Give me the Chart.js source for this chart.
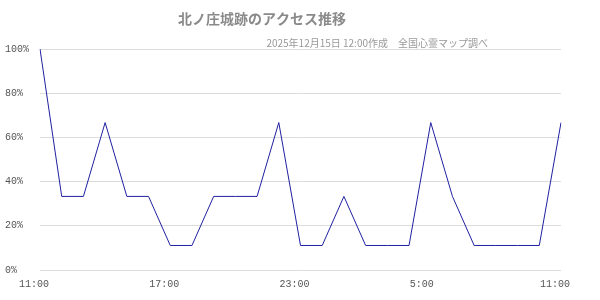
<!DOCTYPE html>
<html><head><meta charset="utf-8">
<script src="https://cdn.jsdelivr.net/npm/chart.js@4"></script>
<style>html,body{margin:0;padding:0;background:#fff}#wrap{width:600px;height:300px}</style>
</head><body><div id="wrap"><canvas id="c" width="600" height="300"></canvas></div>
<script>
const titleText = "北ノ庄城跡のアクセス推移";
const subtitleText = "2025年12月15日 12:00作成　全国心霊マップ調べ";
const hours = ["11:00","12:00","13:00","14:00","15:00","16:00","17:00","18:00","19:00","20:00","21:00","22:00","23:00","0:00","1:00","2:00","3:00","4:00","5:00","6:00","7:00","8:00","9:00","10:00","11:00"];
const access = [100,33.3,33.3,66.7,33.3,33.3,11.1,11.1,33.3,33.3,33.3,66.7,11.1,11.1,33.3,11.1,11.1,11.1,66.7,33.3,11.1,11.1,11.1,11.1,66.7];
const yTicks = [0,20,40,60,80,100];

const headerPlugin = {
  id: 'header',
  afterDraw(chart) {
    const ctx = chart.ctx;
    ctx.save();
    ctx.fillStyle = '#8a8a8a';
    ctx.textBaseline = 'middle';
    ctx.textAlign = 'center';
    ctx.font = 'bold 14px "Noto Sans CJK JP"';
    ctx.fillText(titleText, 262, 19);
    ctx.textAlign = 'right';
    ctx.font = '10px "Noto Sans CJK JP"';
    ctx.fillStyle = '#999';
    ctx.fillText(subtitleText, 488, 43);
    ctx.restore();
  }
};

new Chart(document.getElementById('c'), {
  type: 'line',
  data: {
    labels: hours,
    datasets: [{
      data: access,
      borderColor: '#2020a0',
      borderWidth: 1,
      pointRadius: 0,
      tension: 0,
      fill: false
    }]
  },
  options: {
    responsive: false,
    animation: false,
    layout: { padding: { left: 5, right: 39, top: 49, bottom: 0 } },
    plugins: { legend: { display: false }, tooltip: { enabled: false } },
    scales: {
      x: {
        afterFit: s => { s.height = 30; },
        grid: { display: false },
        border: { display: false },
        ticks: {
          autoSkip: false,
          maxRotation: 0,
          align: 'start',
          labelOffset: -21,
          padding: 0,
          color: '#555',
          font: { family: '"Liberation Mono"', size: 10 },
          callback: function(v, i) { return i % 6 === 0 ? hours[i] : ''; }
        }
      },
      y: {
        min: 0, max: 100,
        afterBuildTicks: s => { s.ticks = yTicks.map(v => ({ value: v })); },
        afterFit: s => { s.width = 35; },
        grid: { color: '#dcdcdc', drawTicks: false },
        border: { display: false },
        ticks: {
          crossAlign: 'far',
          padding: 10,
          color: '#555',
          font: { family: '"Liberation Mono"', size: 10 },
          callback: v => v + '%'
        }
      }
    }
  },
  plugins: [headerPlugin]
});
</script></body></html>
